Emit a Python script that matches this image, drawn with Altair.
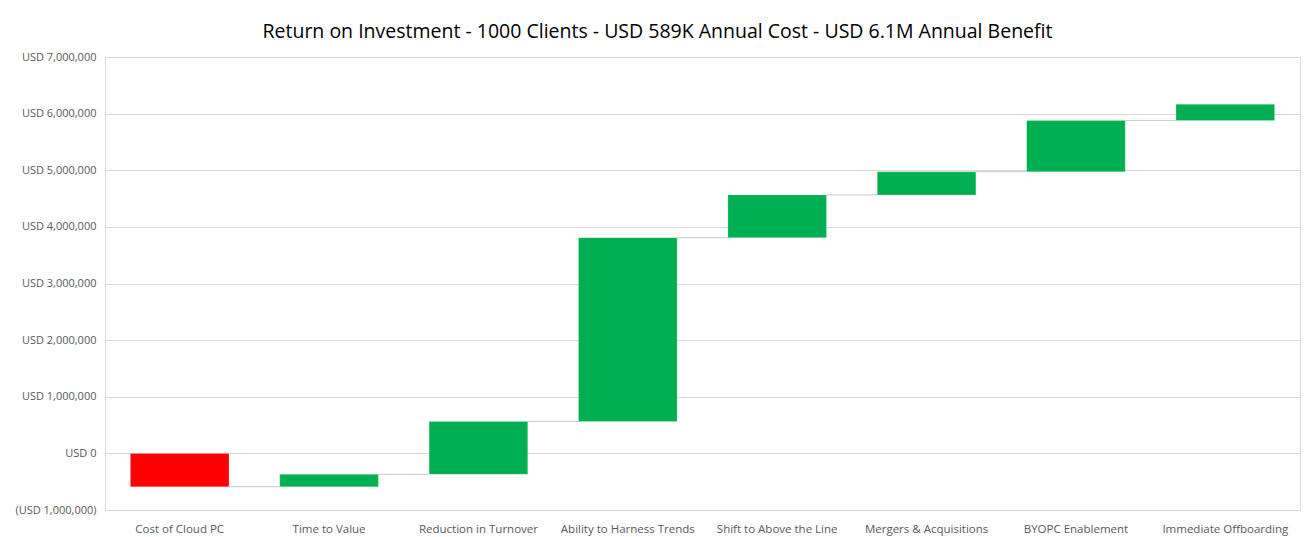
import altair as alt
import pandas as pd

categories = ["Cost of Cloud PC", "Time to Value", "Reduction in Turnover",
              "Ability to Harness Trends", "Shift to Above the Line",
              "Mergers & Acquisitions", "BYOPC Enablement", "Immediate Offboarding"]
deltas = [-589000, 219000, 935000, 3245000, 755000, 410000, 905000, 285000]
y_ticks = [-1000000, 0, 1000000, 2000000, 3000000, 4000000, 5000000, 6000000, 7000000]

starts, ends = [], []
run = 0
for d in deltas:
    starts.append(run)
    run += d
    ends.append(run)

df = pd.DataFrame({
    "cat": categories,
    "start": starts,
    "end": ends,
    "kind": ["cost" if d < 0 else "benefit" for d in deltas],
})
conn = pd.DataFrame({
    "cat": categories[:-1],
    "next": categories[1:],
    "level": ends[:-1],
})

xscale = alt.Scale(domain=categories, paddingInner=0.34, paddingOuter=0.17)
yscale = alt.Scale(domain=[-1000000, 7000000], nice=False, zero=False)

label_expr = ("datum.value < 0 ? '(USD ' + format(-datum.value, ',') + ')' : "
              "'USD ' + format(datum.value, ',')")

x_axis = alt.Axis(title=None, labelAngle=0, labelFontSize=11.5,
                  labelColor="#595959", labelFont="Open Sans",
                  domain=False, ticks=False, labelPadding=19,
                  grid=False, labelLimit=200, bandPosition=0.5,
                  labelAlign="center", labelBaseline="middle")
y_axis = alt.Axis(title=None, values=y_ticks, labelExpr=label_expr,
                  labelFontSize=11, labelColor="#595959",
                  labelFont="Open Sans", domain=True,
                  domainColor="#d9d9d9", ticks=False, labelPadding=9,
                  grid=True, gridColor="#d9d9d9")

bars = alt.Chart(df).mark_bar(stroke="white", strokeWidth=0.5, strokeOpacity=0.4).encode(
    x=alt.X("cat:N", scale=xscale, sort=categories, axis=x_axis),
    y=alt.Y("start:Q", scale=yscale, axis=y_axis),
    y2="end:Q",
    color=alt.Color("kind:N",
                    scale=alt.Scale(domain=["cost", "benefit"],
                                    range=["#FF0000", "#00B050"]),
                    legend=None),
)

connectors = alt.Chart(conn).mark_rule(color="#c8c8c8", strokeWidth=1).encode(
    x=alt.X("cat:N", scale=xscale, sort=categories, bandPosition=1, axis=x_axis),
    x2=alt.X2("next:N", bandPosition=0),
    y=alt.Y("level:Q", scale=yscale, axis=y_axis),
)

chart = alt.layer(bars, connectors).properties(
    width=1195,
    height=453,
    padding={"left": 97, "top": 49, "right": 1, "bottom": 29},
    autosize=alt.AutoSizeParams(type="none"),
    title=alt.Title(
        "Return on Investment - 1000 Clients - USD 589K Annual Cost - USD 6.1M Annual Benefit",
        font="Open Sans", fontSize=19.5, fontWeight="normal", color="#000000",
        anchor="middle", offset=9, dx=-45,
    ),
).configure_view(strokeWidth=0).configure(background="white")

chart.save("out.html", embed_options={"renderer": "svg", "actions": False})
